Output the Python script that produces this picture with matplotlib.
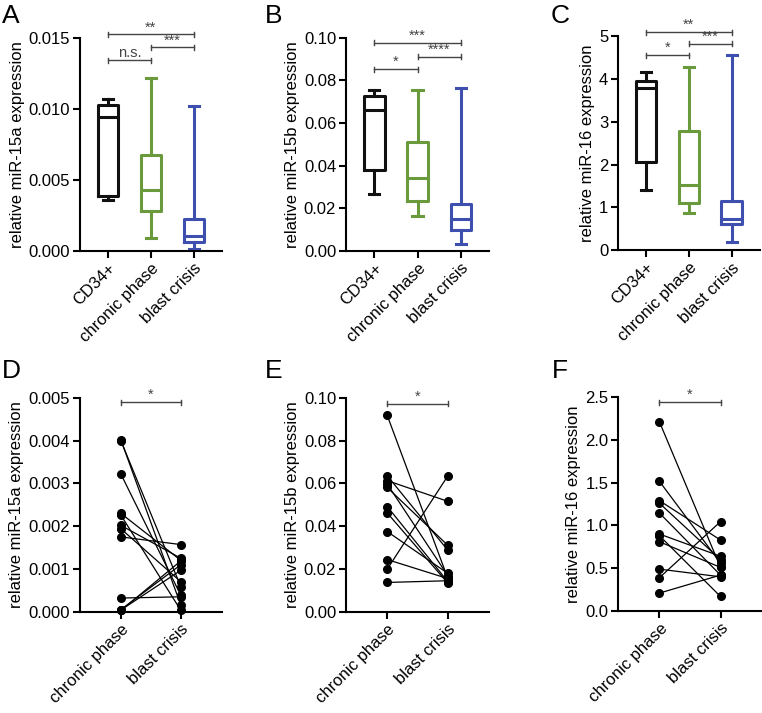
"""Box plots (A-C) and paired patient plots (D-F) of miR-15/16 expression."""

import matplotlib
matplotlib.use("Agg")
import matplotlib.pyplot as plt

plt.rcParams["font.family"] = ["Liberation Sans", "DejaVu Sans"]

GROUPS = ["CD34+", "chronic phase", "blast crisis"]
PAIRED_GROUPS = ["chronic phase", "blast crisis"]
BOX_COLORS = ["#111111", "#6a9a3c", "#3f4fb0"]

# box stats per group: (whisker low, Q1, median, Q3, whisker high)
mir15a_box = [(0.0036, 0.0039, 0.0094, 0.0103, 0.01066),
              (0.00092, 0.00279, 0.00432, 0.00678, 0.01218),
              (0.00016, 0.00063, 0.00103, 0.00228, 0.01019)]
mir15b_box = [(0.0266, 0.0382, 0.0660, 0.0728, 0.0757),
              (0.0164, 0.0236, 0.0340, 0.0509, 0.0757),
              (0.0034, 0.0097, 0.0149, 0.0222, 0.0764)]
mir16_box = [(1.40, 2.06, 3.80, 3.95, 4.17),
             (0.86, 1.11, 1.52, 2.78, 4.28),
             (0.19, 0.62, 0.72, 1.15, 4.57)]

# paired values, chronic phase -> blast crisis (same patient per index)
mir15a_cp = [0.00402, 0.00400, 0.00322, 0.00230, 0.00226, 0.00202,
             0.00194, 0.00175, 0.00032, 0.00005, 0.00004, 0.00003]
mir15a_bc = [0.00015, 0.00058, 0.00038, 0.00120, 0.00003, 0.00125,
             0.00070, 0.00157, 0.00035, 0.00110, 0.00097, 0.00119]
mir15b_cp = [0.0918, 0.0636, 0.0613, 0.0597, 0.0581, 0.0492,
             0.0462, 0.0375, 0.0244, 0.0199, 0.0137]
mir15b_bc = [0.0155, 0.0287, 0.0516, 0.0168, 0.0310, 0.0140,
             0.0133, 0.0179, 0.0155, 0.0636, 0.0145]
mir16_cp = [2.21, 1.515, 1.29, 1.26, 1.145, 0.90, 0.88, 0.81, 0.49, 0.39, 0.21]
mir16_bc = [0.51, 0.56, 0.83, 0.60, 0.42, 0.64, 0.17, 0.51, 0.40, 1.045, 0.42]

# significance brackets: (x1, x2, y, label)
sig_a = [(0, 2, 0.01524, "**"), (1, 2, 0.01432, "***"), (0, 1, 0.01343, "n.s.")]
sig_b = [(0, 2, 0.0977, "***"), (1, 2, 0.0911, "****"), (0, 1, 0.0853, "*")]
sig_c = [(0, 2, 5.10, "**"), (1, 2, 4.83, "***"), (0, 1, 4.56, "*")]
sig_d = [(0, 1, 0.0049, "*")]
sig_e = [(0, 1, 0.0972, "*")]
sig_f = [(0, 1, 2.44, "*")]

TICK_FS = 12
LABEL_FS = 12


def style_axes(ax):
    for side in ("top", "right"):
        ax.spines[side].set_visible(False)
    for side in ("left", "bottom"):
        ax.spines[side].set_linewidth(1.5)
    ax.tick_params(direction="out", length=5, width=1.5, labelsize=TICK_FS,
                   pad=2)


def add_brackets(ax, sigs, height):
    for x1, x2, y, label in sigs:
        ax.plot([x1, x2], [y, y], color="#444444", lw=1.0, clip_on=False)
        for x in (x1, x2):
            ax.plot([x, x], [y - height, y + height], color="#444444",
                    lw=1.0, clip_on=False)
        ax.text((x1 + x2) / 2, y, label, ha="center", va="bottom",
                fontsize=10.5, color="#444444", clip_on=False)


def box_panel(ax, stats, ylim, ticks, fmt, ylabel, sigs):
    bxp_stats = []
    for (lo, q1, med, q3, hi), name in zip(stats, GROUPS):
        bxp_stats.append(dict(whislo=lo, q1=q1, med=med, q3=q3,
                              whishi=hi, label=name, fliers=[]))
    for i, (st, col) in enumerate(zip(bxp_stats, BOX_COLORS)):
        ax.bxp([st], positions=[i], widths=0.48, showfliers=False,
               boxprops=dict(color=col, lw=2.2),
               whiskerprops=dict(color=col, lw=2.2),
               capprops=dict(color=col, lw=2.2),
               medianprops=dict(color=col, lw=2.2))
    ax.set_xlim(-0.65, 2.65)
    ax.set_ylim(*ylim)
    ax.set_yticks(ticks)
    ax.set_yticklabels([fmt.format(t) for t in ticks])
    ax.set_xticks(range(len(GROUPS)))
    ax.set_xticklabels(GROUPS, rotation=45, ha="right",
                       rotation_mode="anchor")
    ax.set_ylabel(ylabel, fontsize=LABEL_FS, labelpad=3)
    style_axes(ax)
    add_brackets(ax, sigs, (ylim[1] - ylim[0]) * 0.012)


def paired_panel(ax, cp, bc, ylim, ticks, fmt, ylabel, sigs):
    for a, b in zip(cp, bc):
        ax.plot([0, 1], [a, b], color="black", lw=0.9, marker="o",
                markersize=5.5, clip_on=False, zorder=3)
    ax.set_xlim(-0.68, 1.68)
    ax.set_ylim(*ylim)
    ax.set_yticks(ticks)
    ax.set_yticklabels([fmt.format(t) for t in ticks])
    ax.set_xticks(range(len(PAIRED_GROUPS)))
    ax.set_xticklabels(PAIRED_GROUPS, rotation=45, ha="right",
                       rotation_mode="anchor")
    ax.set_ylabel(ylabel, fontsize=LABEL_FS, labelpad=3)
    style_axes(ax)
    add_brackets(ax, sigs, (ylim[1] - ylim[0]) * 0.012)


fig = plt.figure(figsize=(7.62, 7.13), dpi=100)

ax_a = fig.add_axes([0.105, 0.648, 0.186, 0.299])
ax_b = fig.add_axes([0.454, 0.648, 0.188, 0.299])
ax_c = fig.add_axes([0.811, 0.649, 0.186, 0.300])
ax_d = fig.add_axes([0.105, 0.142, 0.186, 0.300])
ax_e = fig.add_axes([0.454, 0.142, 0.188, 0.300])
ax_f = fig.add_axes([0.811, 0.143, 0.189, 0.300])

box_panel(ax_a, mir15a_box, (0, 0.015), [0, 0.005, 0.010, 0.015], "{:.3f}",
          "relative miR-15a expression", sig_a)
box_panel(ax_b, mir15b_box, (0, 0.10), [0, 0.02, 0.04, 0.06, 0.08, 0.10],
          "{:.2f}", "relative miR-15b expression", sig_b)
box_panel(ax_c, mir16_box, (0, 5), [0, 1, 2, 3, 4, 5], "{:.0f}",
          "relative miR-16 expression", sig_c)

paired_panel(ax_d, mir15a_cp, mir15a_bc, (0, 0.005),
             [0, 0.001, 0.002, 0.003, 0.004, 0.005], "{:.3f}",
             "relative miR-15a expression", sig_d)
paired_panel(ax_e, mir15b_cp, mir15b_bc, (0, 0.10),
             [0, 0.02, 0.04, 0.06, 0.08, 0.10], "{:.2f}",
             "relative miR-15b expression", sig_e)
paired_panel(ax_f, mir16_cp, mir16_bc, (0, 2.5),
             [0, 0.5, 1.0, 1.5, 2.0, 2.5], "{:.1f}",
             "relative miR-16 expression", sig_f)

for letter, x, y in [("A", 0.002, 0.994), ("B", 0.347, 0.994),
                     ("C", 0.722, 0.994), ("D", 0.002, 0.497),
                     ("E", 0.347, 0.497), ("F", 0.724, 0.497)]:
    fig.text(x, y, letter, fontsize=19, ha="left", va="top")

fig.savefig("out.png", dpi=100)
